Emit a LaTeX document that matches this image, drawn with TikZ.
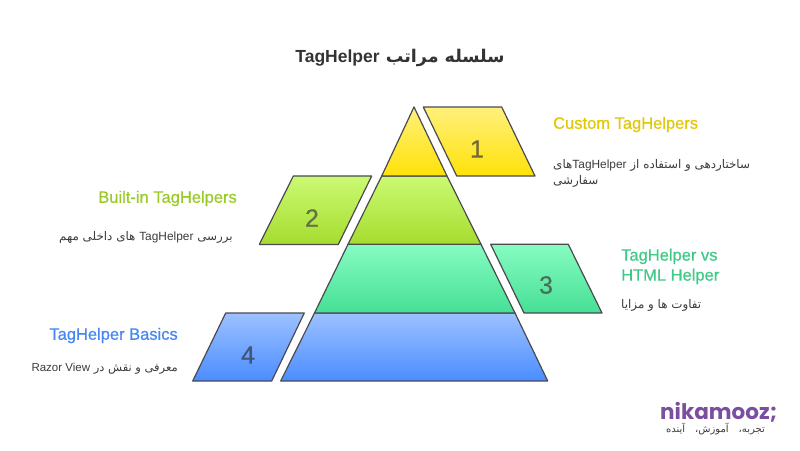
\documentclass[tikz,border=0pt]{standalone}
\usepackage{fontspec}
\usepackage{xcolor}
\setmainfont{Liberation Sans}
\newfontfamily\arabicfont[Script=Arabic]{DejaVu Sans}
\newfontfamily\headfont[FakeBold=0.6]{Liberation Sans}
\newfontfamily\numberfont[FakeBold=0.5]{Liberation Sans}
\newfontfamily\logofont{Poppins}
\TeXXeTstate=1
\usetikzlibrary{calc}
\definecolor{linea}{HTML}{4A4A50}
\definecolor{testo}{HTML}{3C3C3C}
\definecolor{yellowA}{HTML}{FFF07C}
\definecolor{yellowB}{HTML}{FFE208}
\definecolor{limeA}{HTML}{CBFA73}
\definecolor{limeB}{HTML}{A6DC2E}
\definecolor{tealA}{HTML}{86FCC1}
\definecolor{tealB}{HTML}{46DF95}
\definecolor{blueA}{HTML}{9DC1FF}
\definecolor{blueB}{HTML}{4A8DFF}
\definecolor{logoviola}{HTML}{7B4FA0}
\newcommand{\fa}[1]{\arabicfont\beginR #1\endR}
\newcommand{\la}[1]{\beginL{\rmfamily #1}\endL{}}
\tikzset{
  layer/.style n args={2}{draw=linea, line width=1.2pt, line join=round, top color=#1, bottom color=#2},
  number/.style={font=\numberfont\fontsize{25}{25}\selectfont},
  heading/.style={font=\headfont\fontsize{16.5}{20}\selectfont, inner sep=0pt},
  body/.style={text=testo, font=\fontsize{11.9}{16}\selectfont, inner sep=0pt},
}
\begin{document}
\begin{tikzpicture}[x=1pt, y=-1pt]
    \useasboundingbox (0,0) rectangle (800,450);
    % title
    \node[inner sep=0pt, text=black!80, font=\bfseries\fontsize{17.5}{22}\selectfont] (title) at (400,57.5)
        {\fa{سلسله مراتب \la{TagHelper}}};
    % pyramid
    \draw[layer={blueA}{blueB}] (314.5,313) -- (515,313) -- (547.7,381) -- (280.7,381) -- cycle;
    \draw[layer={tealA}{tealB}] (348,244.3) -- (481,244.3) -- (515,313) -- (314.5,313) -- cycle;
    \draw[layer={limeA}{limeB}] (381.7,176) -- (447,176) -- (481,244.3) -- (348,244.3) -- cycle;
    \draw[layer={yellowA}{yellowB}] (414,107) -- (447,176) -- (381.7,176) -- cycle;
    % tiles
    \draw[layer={yellowA}{yellowB}] (423.3,107) -- (501.7,107) -- (535,176) -- (456.7,176) -- cycle;
    \draw[layer={limeA}{limeB}] (293.3,176) -- (371.7,176) -- (338.3,244.5) -- (259.3,244.5) -- cycle;
    \draw[layer={tealA}{tealB}] (490.7,244.3) -- (568.3,244.3) -- (602,313) -- (524,313) -- cycle;
    \draw[layer={blueA}{blueB}] (225.7,313) -- (304.3,313) -- (271.7,381) -- (192.7,381) -- cycle;
    % numbers
    \node[number, text=yellowB!30!black!80] (one) at (477,149){1};
    \node[number, text=limeB!35!black!80] (two) at (312,218){2};
    \node[number, text=tealB!35!black!80] (three) at (546,285){3};
    \node[number, text=blueB!40!black!85] (four) at (248,355){4};
    % Custom
    \node[heading, anchor=west, text=yellowB!88!black] (customhead) at (553,124.5){Custom TagHelpers};
    \node[body, anchor=north west, align=left] (custombody) at (553,159.5)
        {\fa{ساختاردهی و استفاده از \la{TagHelper}های}\\ \fa{سفارشی}};
    % Built-in
    \node[heading, anchor=east, text=limeB!92!black] (builthead) at (237,198.5){Built-in TagHelpers};
    \node[body, anchor=east] (builtbody) at (233,237)
        {\fa{بررسی \la{TagHelper} های داخلی مهم}};
    % vs
    \node[heading, anchor=north west, align=left, text=tealB!90!black] (vshead) at (621,248.5){TagHelper vs\\HTML Helper};
    \node[body, anchor=west] (vsbody) at (621,305.5){\fa{تفاوت ها و مزایا}};
    % Basics
    \node[heading, anchor=east, text=blueB!95!black] (basichead) at (178,335.5){TagHelper Basics};
    \node[body, anchor=east, font=\fontsize{11.5}{16}\selectfont] (basicbody) at (178,369)
        {\fa{معرفی و نقش در \la{Razor View}}};
    % logo
    \node[inner sep=0pt, anchor=west, text=logoviola, font=\logofont\bfseries\fontsize{21.5}{22}\selectfont] (logo) at (660,412.5){nikamooz;};
    \node[inner sep=0pt, anchor=east, text=testo, font=\fontsize{10}{10}\selectfont] (motto) at (765,429.5)
        {\fa{تجربه،\hspace{10pt}آموزش،\hspace{10pt}آینده}};
\end{tikzpicture}
\end{document}
